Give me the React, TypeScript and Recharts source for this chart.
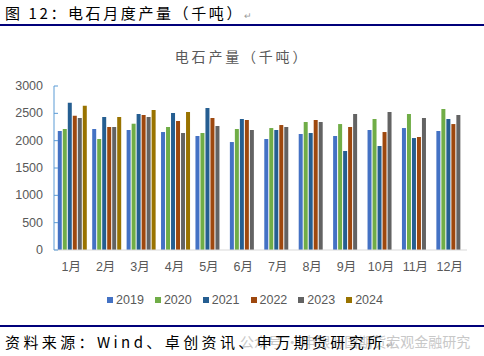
import React from "react";
import { BarChart, Bar, XAxis, YAxis } from "recharts";

const months = ["1月", "2月", "3月", "4月", "5月", "6月", "7月", "8月", "9月", "10月", "11月", "12月"];
const years = ["2019", "2020", "2021", "2022", "2023", "2024"];
const v2019 = [2177, 2213, 2195, 2158, 2085, 1975, 2030, 2122, 2085, 2195, 2231, 2177];
const v2020 = [2213, 2030, 2310, 2250, 2140, 2213, 2231, 2341, 2304, 2396, 2488, 2579];
const v2021 = [2695, 2433, 2488, 2506, 2597, 2396, 2195, 2140, 1811, 1902, 2048, 2396];
const v2022 = [2457, 2250, 2470, 2360, 2414, 2378, 2286, 2378, 2250, 2158, 2067, 2304];
const v2023 = [2414, 2250, 2433, 2140, 2268, 2195, 2250, 2341, 2488, 2524, 2414, 2470];
const v2024 = [2640, 2433, 2561, 2524, null, null, null, null, null, null, null, null];
const yTicks = [0, 500, 1000, 1500, 2000, 2500, 3000];
const colors = ["#4472C4", "#70AD47", "#255E91", "#9E480E", "#636363", "#997300"];
const seriesValues = [v2019, v2020, v2021, v2022, v2023, v2024];

const data = months.map((m, i) => {
  const row: any = { month: m };
  years.forEach((y, k) => {
    row[y] = seriesValues[k][i];
  });
  return row;
});

const FONT = "'Liberation Sans', 'Noto Sans CJK SC', sans-serif";
const CJK = "'Noto Sans CJK SC', sans-serif";

const YTick = (props: any) => {
  const { x, y, payload } = props;
  return (
    <g>
      <line x1={x + 11} y1={y} x2={x + 15} y2={y} stroke="#5B9BD5" strokeWidth={1} />
      <text x={x} y={y} dy={4} textAnchor="end" fill="#595959" fontSize={12.5} fontFamily={FONT}>
        {payload.value}
      </text>
    </g>
  );
};

export default function App() {
  return (
    <div style={{ position: "absolute", left: 0, top: 0, width: 484, height: 356, background: "#fff", overflow: "hidden" }}>
      <div style={{ position: "absolute", left: 5, top: 2, fontFamily: CJK, fontSize: 15, letterSpacing: 2.6, color: "#000", whiteSpace: "nowrap" }}>
        图 12：电石月度产量（千吨）<span style={{ fontSize: 9, color: "#999", letterSpacing: 0 }}>↵</span>
      </div>
      <div style={{ position: "absolute", left: 0, top: 24, width: 484, height: 2, background: "#00007A" }} />
      <div style={{ position: "absolute", left: 0, top: 46, width: 484, textAlign: "center", fontFamily: CJK, fontSize: 14, letterSpacing: 2.8, color: "#595959" }}>
        电石产量（千吨）
      </div>
      <div style={{ position: "absolute", left: 0, top: 70 }}>
        <BarChart
          width={484}
          height={205}
          data={data}
          margin={{ top: 16, right: 17, left: 0, bottom: 0 }}
          barCategoryGap="11%"
          barGap={1}
        >
          <XAxis
            dataKey="month"
            tickLine={false}
            tickSize={0}
            tickMargin={12}
            height={25}
            axisLine={{ stroke: "#D9D9D9" }}
            tick={{ fill: "#595959", fontSize: 12.5, fontFamily: FONT }}
            interval={0}
          />
          <YAxis
            domain={[0, 3000]}
            ticks={yTicks}
            width={54}
            tickSize={0}
            tickMargin={11}
            tickLine={false}
            axisLine={{ stroke: "#5B9BD5" }}
            tick={<YTick />}
            interval={0}
          />
          {years.map((y, k) => (
            <Bar key={y} dataKey={y} fill={colors[k]} isAnimationActive={false} />
          ))}
        </BarChart>
      </div>
      <div style={{ position: "absolute", left: 0, top: 293, width: 484, display: "flex", justifyContent: "center", fontFamily: FONT, fontSize: 12.5, color: "#595959" }}>
        <div style={{ display: "flex", gap: 11, marginLeft: 6 }}>
          {years.map((y, k) => (
            <div key={y} style={{ display: "flex", alignItems: "center" }}>
              <span style={{ display: "inline-block", width: 6, height: 6, background: colors[k], marginRight: 3 }} />
              <span>{y}</span>
            </div>
          ))}
        </div>
      </div>
      <div style={{ position: "absolute", left: 0, top: 325, width: 484, height: 2, background: "#00007A" }} />
      <div style={{ position: "absolute", left: 240, top: 331, fontFamily: CJK, fontSize: 14, color: "#c8c8c8", whiteSpace: "nowrap" }}>
        公众号 · 申银万国期货宏观金融研究
      </div>
      <div style={{ position: "absolute", left: 5, top: 331, fontFamily: CJK, fontSize: 15, letterSpacing: 3.4, color: "#000", whiteSpace: "nowrap" }}>
        资料来源：Wind、卓创资讯、申万期货研究所<span style={{ fontSize: 9, color: "#999", letterSpacing: 0 }}>↵</span>
      </div>
    </div>
  );
}
